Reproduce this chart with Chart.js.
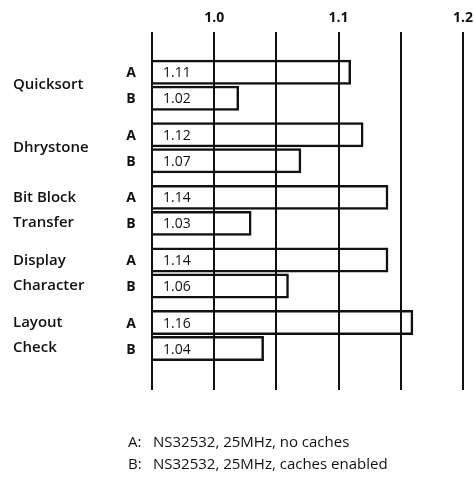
<!DOCTYPE html>
<html>
<head>
<meta charset="utf-8">
<script src="https://cdn.jsdelivr.net/npm/chart.js@4"></script>
<style>
  html, body { margin: 0; padding: 0; background: #fff; }
  #wrap { width: 474px; height: 483px; }
</style>
</head>
<body>
<div id="wrap"><canvas id="c" width="474" height="483"></canvas></div>
<script>
// ---- data ----
const categories = ["Quicksort", "Dhrystone", ["Bit Block", "Transfer"], ["Display", "Character"], ["Layout", "Check"]];
const seriesNames = ["A", "B"];
const valuesA = [1.11, 1.12, 1.14, 1.14, 1.16];
const valuesB = [1.02, 1.07, 1.03, 1.06, 1.04];
const xTickLabels = [1.0, 1.1, 1.2];
const legendKeys = ["A:", "B:"];
const legendTexts = ["NS32532, 25MHz, no caches", "NS32532, 25MHz, caches enabled"];

const FONT = "'Open Sans', 'Noto Sans', sans-serif";

const barLabels = {
  id: 'barLabels',
  afterDatasetsDraw(chart) {
    const ctx = chart.ctx;
    const area = chart.chartArea;
    const xs = chart.scales.x;
    const basePx = xs.getPixelForValue(xs.min);
    ctx.save();
    ctx.fillStyle = '#111';
    ctx.textBaseline = 'middle';
    chart.data.datasets.forEach((ds, di) => {
      const meta = chart.getDatasetMeta(di);
      meta.data.forEach((el, i) => {
        const v = meta._parsed[i].x;
        ctx.font = "500 14px " + FONT;
        ctx.textAlign = 'left';
        ctx.fillText(v.toFixed(2), basePx + 11, el.y + 1);
        ctx.font = "700 14px " + FONT;
        ctx.textAlign = 'center';
        ctx.fillText(seriesNames[di], area.left - 21, el.y + 1);
      });
    });
    ctx.textAlign = 'left';
    ctx.font = "500 15px " + FONT;
    legendKeys.forEach((k, i) => {
      const y = area.bottom + 53 + i * 22;
      ctx.fillText(k, area.left - 24, y);
      ctx.fillText(legendTexts[i], area.left + 1, y);
    });
    ctx.restore();
  }
};

const barStyle = {
  backgroundColor: 'rgba(255,255,255,0)',
  borderColor: '#111',
  borderWidth: 2.5,
  borderSkipped: false,
  categoryPercentage: 0.83,
  barPercentage: 0.96
};

new Chart(document.getElementById('c'), {
  type: 'bar',
  data: {
    datasets: [
      Object.assign({ label: seriesNames[0], data: valuesA.map((v, i) => ({ x: v, y: i })) }, barStyle),
      Object.assign({ label: seriesNames[1], data: valuesB.map((v, i) => ({ x: v, y: i })) }, barStyle)
    ]
  },
  options: {
    indexAxis: 'y',
    responsive: false,
    animation: false,
    events: [],
    layout: { padding: { left: 13, right: 11, top: 0, bottom: 93 } },
    plugins: { legend: { display: false }, tooltip: { enabled: false }, title: { display: false }, colors: { enabled: false } },
    scales: {
      x: {
        type: 'linear',
        position: 'top',
        min: 0.95,
        max: 1.2,
        afterFit(scale) { scale.height = 32; scale.paddingLeft = 0; scale.paddingRight = 0; },
        afterBuildTicks(scale) {
          const t = [];
          for (let k = 0; k <= 5; k++) t.push({ value: Math.round((0.95 + k * 0.05) * 100) / 100 });
          scale.ticks = t;
        },
        border: { display: false },
        grid: { color: '#111', lineWidth: 2, drawTicks: false },
        ticks: {
          padding: 6,
          color: '#111',
          font: { family: FONT, size: 14, weight: '700' },
          autoSkip: false,
          maxRotation: 0,
          callback(v) {
            const hit = xTickLabels.find(t => Math.abs(t - v) < 1e-6);
            return hit !== undefined ? hit.toFixed(1) : '';
          }
        }
      },
      y: {
        type: 'linear',
        reverse: true,
        offset: false,
        min: -0.85,
        max: 4.87,
        afterFit(scale) { scale.width = 139; },
        afterBuildTicks(scale) { scale.ticks = categories.map((c, i) => ({ value: i })); },
        border: { display: false },
        grid: { display: false, offset: false },
        ticks: {
          crossAlign: 'far',
          color: '#111',
          autoSkip: false,
          font: { family: FONT, size: 15, weight: '600', lineHeight: 1.65 },
          callback(v) { return categories[v] !== undefined ? categories[v] : ''; }
        }
      }
    }
  },
  plugins: [barLabels]
});
</script>
</body>
</html>
